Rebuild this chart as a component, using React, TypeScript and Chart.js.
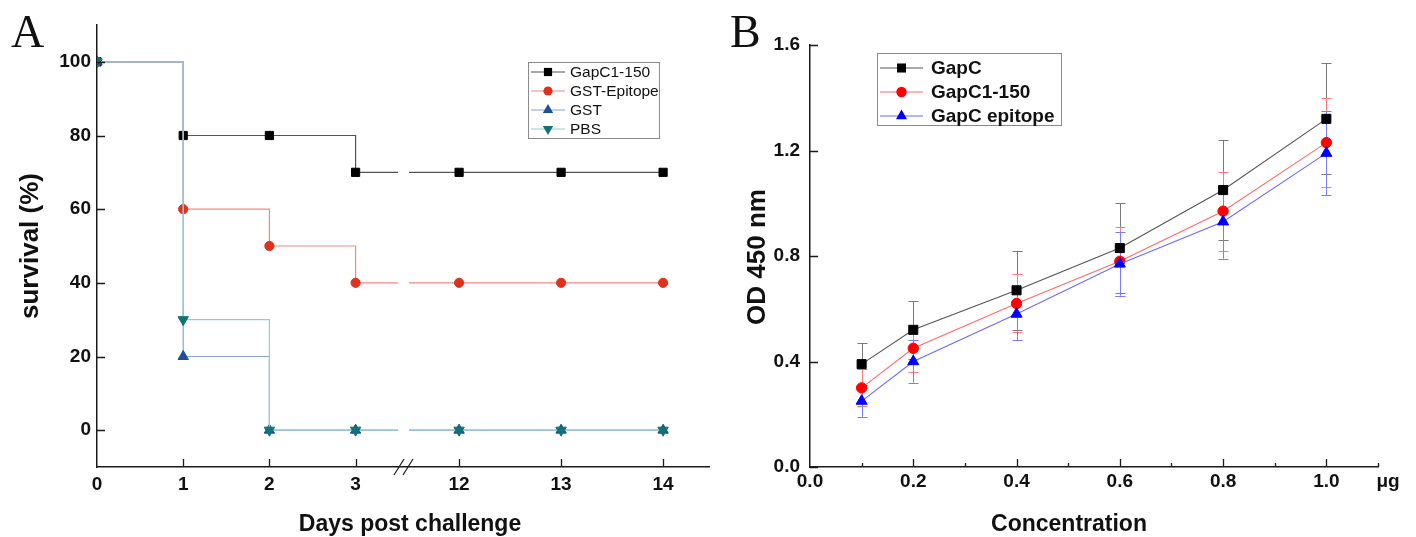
import React, { useEffect, useRef } from 'react';
import { Chart, registerables } from 'chart.js';

Chart.register(...registerables);

// ---------- Panel A data ----------
const days = [0, 1, 2, 3, 12, 13, 14];
const survivalGapC1_150 = [100, 80, 80, 70, 70, 70, 70];
const survivalGSTEpitope = [100, 60, 50, 40, 40, 40, 40];
const survivalGST = [100, 20, 0, 0, 0, 0, 0];
const survivalPBS = [100, 30, 0, 0, 0, 0, 0];
const survivalTicks = [0, 20, 40, 60, 80, 100];
const seriesNamesA = ['GapC1-150', 'GST-Epitope', 'GST', 'PBS'];

// broken x axis: two segments of days, each drawn on half of the axis
const segLow = [0, 3.55];
const segHigh = [11.45, 14.45];

// ---------- Panel B data ----------
const concentrations = [0.1, 0.2, 0.4, 0.6, 0.8, 1.0];
const odGapC = [0.39, 0.52, 0.67, 0.83, 1.05, 1.32];
const errGapC = [0.08, 0.11, 0.15, 0.17, 0.19, 0.21];
const odGapC1_150 = [0.3, 0.45, 0.62, 0.78, 0.97, 1.23];
const errGapC1_150 = [0.07, 0.09, 0.11, 0.13, 0.15, 0.17];
const odEpitope = [0.25, 0.4, 0.58, 0.77, 0.93, 1.19];
const errEpitope = [0.06, 0.08, 0.1, 0.12, 0.14, 0.16];
const seriesNamesB = ['GapC', 'GapC1-150', 'GapC epitope'];
const concTicks = [0, 0.2, 0.4, 0.6, 0.8, 1.0];
const concMinorTicks = [0.1, 0.3, 0.5, 0.7, 0.9, 1.1];
const odTicks = [0, 0.4, 0.8, 1.2, 1.6];
const concUnit = 'μg';

// ---------- styling ----------
const AXIS_COLOR = '#1a1a1a';
const TEXT_COLOR = '#111111';
const SANS = '"Liberation Sans", Arial, sans-serif';
const SERIF = '"Liberation Serif", "Times New Roman", serif';
const TICK_FONT = { family: SANS, size: 19, weight: 'bold' as const };

const dayToAxis = (d: number) =>
  d <= segLow[1]
    ? (d - segLow[0]) / (segLow[1] - segLow[0])
    : 1 + (d - segHigh[0]) / (segHigh[1] - segHigh[0]);

type MarkerStyle = 'rect' | 'circle' | 'triangle' | 'triangleDown';

function drawMarker(ctx: CanvasRenderingContext2D, style: MarkerStyle, x: number, y: number, r: number, color: string) {
  ctx.save();
  ctx.fillStyle = color;
  ctx.beginPath();
  if (style === 'rect') {
    const s = r * Math.SQRT1_2;
    ctx.rect(x - s, y - s, 2 * s, 2 * s);
  } else if (style === 'circle') {
    ctx.arc(x, y, r, 0, Math.PI * 2);
  } else {
    const base = style === 'triangle' ? 0 : Math.PI;
    for (let k = 0; k < 3; k++) {
      const a = base + (k * 2 * Math.PI) / 3;
      const px = x + Math.sin(a) * r;
      const py = y - Math.cos(a) * r;
      if (k === 0) ctx.moveTo(px, py);
      else ctx.lineTo(px, py);
    }
    ctx.closePath();
  }
  ctx.fill();
  ctx.restore();
}

interface LegendItem {
  label: string;
  marker: MarkerStyle;
  markerColor: string;
  lineColor: string;
  r: number;
}

const stylesA: LegendItem[] = [
  { label: seriesNamesA[0], marker: 'rect', markerColor: '#000000', lineColor: '#555555', r: 5.8 },
  { label: seriesNamesA[1], marker: 'circle', markerColor: '#e0301e', lineColor: '#f08a80', r: 4.6 },
  { label: seriesNamesA[2], marker: 'triangle', markerColor: '#1d4f9c', lineColor: '#8aa4d8', r: 6 },
  { label: seriesNamesA[3], marker: 'triangleDown', markerColor: '#127373', lineColor: '#95cdcd', r: 6 },
];
const valuesA = [survivalGapC1_150, survivalGSTEpitope, survivalGST, survivalPBS];

const stylesB: LegendItem[] = [
  { label: seriesNamesB[0], marker: 'rect', markerColor: '#000000', lineColor: '#555555', r: 6.4 },
  { label: seriesNamesB[1], marker: 'circle', markerColor: '#ff0000', lineColor: '#ff6a6a', r: 5.2 },
  { label: seriesNamesB[2], marker: 'triangle', markerColor: '#0000ff', lineColor: '#6a6aff', r: 6.4 },
];
const valuesB = [odGapC, odGapC1_150, odEpitope];
const errorsB = [errGapC, errGapC1_150, errEpitope];
const errColorsB = ['#7a7a7a', '#ff7a7a', '#7a7aff'];

function drawLegend(
  ctx: CanvasRenderingContext2D,
  items: LegendItem[],
  box: { x: number; y: number; w: number; h: number },
  firstY: number,
  dy: number,
  lineX0: number,
  lineX1: number,
  textX: number,
  font: string
) {
  ctx.save();
  ctx.strokeStyle = '#8a8a8a';
  ctx.lineWidth = 1;
  ctx.strokeRect(box.x + 0.5, box.y + 0.5, box.w, box.h);
  ctx.font = font;
  ctx.textBaseline = 'middle';
  ctx.textAlign = 'left';
  items.forEach((it, i) => {
    const y = firstY + i * dy;
    ctx.strokeStyle = it.lineColor;
    ctx.lineWidth = 1.2;
    ctx.beginPath();
    ctx.moveTo(lineX0, y);
    ctx.lineTo(lineX1, y);
    ctx.stroke();
    drawMarker(ctx, it.marker, (lineX0 + lineX1) / 2, y, it.r, it.markerColor);
    ctx.fillStyle = TEXT_COLOR;
    ctx.fillText(it.label, textX, y + 1);
  });
  ctx.restore();
}

function drawRotatedTitle(ctx: CanvasRenderingContext2D, text: string, x: number, y: number, font: string) {
  ctx.save();
  ctx.translate(x, y);
  ctx.rotate(-Math.PI / 2);
  ctx.font = font;
  ctx.fillStyle = TEXT_COLOR;
  ctx.textAlign = 'center';
  ctx.textBaseline = 'middle';
  ctx.fillText(text, 0, 0);
  ctx.restore();
}

const survivalDecor = {
  id: 'survivalDecor',
  afterDatasetsDraw(chart: any) {
    const { ctx, chartArea: ca, scales } = chart;
    const bx = scales.x.getPixelForValue(1);
    ctx.save();
    ctx.fillStyle = '#ffffff';
    ctx.fillRect(bx - 5, ca.top, 11, ca.bottom - ca.top - 2);
    ctx.restore();
  },
  afterDraw(chart: any) {
    const { ctx, chartArea: ca, scales } = chart;
    const { x, y } = scales;
    ctx.save();
    ctx.strokeStyle = AXIS_COLOR;
    ctx.lineWidth = 1.3;
    ctx.beginPath();
    x.ticks.forEach((t: any, i: number) => {
      if (i === 0) return;
      const px = Math.round(x.getPixelForValue(t.value)) + 0.5;
      ctx.moveTo(px, ca.bottom);
      ctx.lineTo(px, ca.bottom - 8);
    });
    y.ticks.forEach((t: any) => {
      const py = Math.round(y.getPixelForValue(t.value)) + 0.5;
      ctx.moveTo(ca.left, py);
      ctx.lineTo(ca.left + 8, py);
    });
    ctx.stroke();
    // axis break marks
    const bx = x.getPixelForValue(1);
    ctx.lineWidth = 1.2;
    ctx.beginPath();
    ctx.moveTo(bx - 9, ca.bottom + 8);
    ctx.lineTo(bx + 1, ca.bottom - 8);
    ctx.moveTo(bx, ca.bottom + 8);
    ctx.lineTo(bx + 10, ca.bottom - 8);
    ctx.stroke();

    // titles
    ctx.fillStyle = TEXT_COLOR;
    ctx.font = `bold 23px ${SANS}`;
    ctx.textAlign = 'center';
    ctx.textBaseline = 'alphabetic';
    ctx.fillText('Days post challenge', 410, 531);
    drawRotatedTitle(ctx, 'survival (%)', 31, 246, `bold 26px ${SANS}`);

    // panel letter
    ctx.font = `46px ${SERIF}`;
    ctx.textAlign = 'left';
    ctx.fillText('A', 11, 47);
    ctx.restore();

    drawLegend(ctx, stylesA, { x: 528, y: 62, w: 131, h: 76 }, 72, 19, 531, 565, 570, `15.5px ${SANS}`);
  },
};

const elisaDecor = {
  id: 'elisaDecor',
  beforeDatasetsDraw(chart: any) {
    const { ctx, scales } = chart;
    const { x, y } = scales;
    ctx.save();
    ctx.lineWidth = 1;
    valuesB.forEach((vals, si) => {
      ctx.strokeStyle = errColorsB[si];
      ctx.beginPath();
      vals.forEach((v, i) => {
        const px = Math.round(x.getPixelForValue(concentrations[i])) + 0.5;
        const top = y.getPixelForValue(v + errorsB[si][i]);
        const bot = y.getPixelForValue(v - errorsB[si][i]);
        ctx.moveTo(px, top);
        ctx.lineTo(px, bot);
        ctx.moveTo(px - 5, Math.round(top) + 0.5);
        ctx.lineTo(px + 5, Math.round(top) + 0.5);
        ctx.moveTo(px - 5, Math.round(bot) + 0.5);
        ctx.lineTo(px + 5, Math.round(bot) + 0.5);
      });
      ctx.stroke();
    });
    ctx.restore();
  },
  afterDraw(chart: any) {
    const { ctx, chartArea: ca, scales } = chart;
    const { x, y } = scales;
    ctx.save();
    ctx.strokeStyle = AXIS_COLOR;
    ctx.lineWidth = 1.3;
    ctx.beginPath();
    x.ticks.forEach((t: any, i: number) => {
      if (i === 0) return;
      const px = Math.round(x.getPixelForValue(t.value)) + 0.5;
      ctx.moveTo(px, ca.bottom);
      ctx.lineTo(px, ca.bottom - 8);
    });
    concMinorTicks.forEach((v) => {
      const px = Math.round(x.getPixelForValue(v)) + 0.5;
      ctx.moveTo(px, ca.bottom);
      ctx.lineTo(px, ca.bottom - 4);
    });
    y.ticks.forEach((t: any) => {
      const py = Math.round(y.getPixelForValue(t.value)) + 0.5;
      ctx.moveTo(ca.left, py);
      ctx.lineTo(ca.left + 8, py);
    });
    ctx.stroke();

    ctx.fillStyle = TEXT_COLOR;
    ctx.font = `bold 19px ${SANS}`;
    ctx.textAlign = 'center';
    ctx.textBaseline = 'middle';
    ctx.fillText(concUnit, ca.right + 10, 482);

    ctx.font = `bold 23px ${SANS}`;
    ctx.textBaseline = 'alphabetic';
    ctx.fillText('Concentration', 349, 531);
    drawRotatedTitle(ctx, 'OD 450 nm', 38, 257, `bold 26px ${SANS}`);

    ctx.font = `46px ${SERIF}`;
    ctx.textAlign = 'left';
    ctx.fillText('B', 10, 47);
    ctx.restore();

    drawLegend(ctx, stylesB, { x: 157, y: 53, w: 184, h: 72 }, 68, 24, 160, 203, 211, `bold 19px ${SANS}`);
  },
};

function SurvivalChart() {
  const ref = useRef<HTMLCanvasElement>(null);
  useEffect(() => {
    const datasets = stylesA.map((s, si) => ({
      label: s.label,
      data: days.map((d, i) => ({ x: dayToAxis(d), y: valuesA[si][i] })),
      stepped: true as const,
      borderColor: s.lineColor,
      borderWidth: 1.2,
      fill: false,
      pointStyle: s.marker === 'triangleDown' ? 'triangle' : s.marker,
      pointRotation: s.marker === 'triangleDown' ? 180 : 0,
      pointRadius: s.r,
      pointBackgroundColor: s.markerColor,
      pointBorderColor: s.markerColor,
      pointBorderWidth: 1,
      order: stylesA.length - 1 - si,
    }));
    const chart = new Chart(ref.current!, {
      type: 'line',
      data: { datasets },
      plugins: [survivalDecor],
      options: {
        animation: false,
        responsive: false,
        events: [],
        layout: { padding: { top: 25, right: 11, left: 0, bottom: 0 } },
        plugins: { legend: { display: false }, tooltip: { enabled: false } },
        scales: {
          x: {
            type: 'linear',
            min: 0,
            max: 2,
            afterBuildTicks: (s: any) => {
              s.ticks = days.map((d) => ({ value: dayToAxis(d) }));
            },
            afterFit: (s: any) => {
              s.height = 70;
            },
            grid: { display: false, drawTicks: false },
            border: { display: true, color: AXIS_COLOR, width: 1.5 },
            ticks: {
              autoSkip: false,
              maxRotation: 0,
              padding: 6,
              color: TEXT_COLOR,
              font: TICK_FONT,
              callback: (_v: any, i: number) => String(days[i]),
            },
          },
          y: {
            type: 'linear',
            min: -10,
            max: 110,
            afterBuildTicks: (s: any) => {
              s.ticks = survivalTicks.map((v) => ({ value: v }));
            },
            afterFit: (s: any) => {
              s.width = 97;
            },
            grid: { display: false, drawTicks: false },
            border: { display: true, color: AXIS_COLOR, width: 1.5 },
            ticks: {
              autoSkip: false,
              padding: 6,
              color: TEXT_COLOR,
              font: TICK_FONT,
              callback: (v: any) => String(v),
            },
          },
        },
      },
    } as any);
    return () => chart.destroy();
  }, []);
  return <canvas ref={ref} width={720} height={537} style={{ position: 'absolute', left: 0, top: 0 }} />;
}

function ElisaChart() {
  const ref = useRef<HTMLCanvasElement>(null);
  useEffect(() => {
    const datasets = stylesB.map((s, si) => ({
      label: s.label,
      data: concentrations.map((c, i) => ({ x: c, y: valuesB[si][i] })),
      borderColor: s.lineColor,
      borderWidth: 1.1,
      fill: false,
      tension: 0,
      pointStyle: s.marker,
      pointRadius: s.r,
      pointBackgroundColor: s.markerColor,
      pointBorderColor: s.markerColor,
      pointBorderWidth: 1,
      order: stylesB.length - 1 - si,
    }));
    const chart = new Chart(ref.current!, {
      type: 'line',
      data: { datasets },
      plugins: [elisaDecor],
      options: {
        animation: false,
        responsive: false,
        events: [],
        layout: { padding: { top: 45, right: 38, left: 0, bottom: 0 } },
        plugins: { legend: { display: false }, tooltip: { enabled: false } },
        scales: {
          x: {
            type: 'linear',
            min: 0,
            max: 1.1,
            afterBuildTicks: (s: any) => {
              s.ticks = concTicks.map((v) => ({ value: v }));
            },
            afterFit: (s: any) => {
              s.height = 70;
            },
            grid: { display: false, drawTicks: false },
            border: { display: true, color: AXIS_COLOR, width: 1.5 },
            ticks: {
              autoSkip: false,
              maxRotation: 0,
              padding: 3,
              color: TEXT_COLOR,
              font: TICK_FONT,
              callback: (v: any) => Number(v).toFixed(1),
            },
          },
          y: {
            type: 'linear',
            min: 0,
            max: 1.6,
            afterBuildTicks: (s: any) => {
              s.ticks = odTicks.map((v) => ({ value: v }));
            },
            afterFit: (s: any) => {
              s.width = 90;
            },
            grid: { display: false, drawTicks: false },
            border: { display: true, color: AXIS_COLOR, width: 1.5 },
            ticks: {
              autoSkip: false,
              padding: 10,
              color: TEXT_COLOR,
              font: TICK_FONT,
              callback: (v: any) => Number(v).toFixed(1),
            },
          },
        },
      },
    } as any);
    return () => chart.destroy();
  }, []);
  return <canvas ref={ref} width={696} height={537} style={{ position: 'absolute', left: 720, top: 0 }} />;
}

export default function App() {
  return (
    <div style={{ position: 'absolute', left: 0, top: 0, width: 1416, height: 537, background: '#ffffff' }}>
      <SurvivalChart />
      <ElisaChart />
    </div>
  );
}
